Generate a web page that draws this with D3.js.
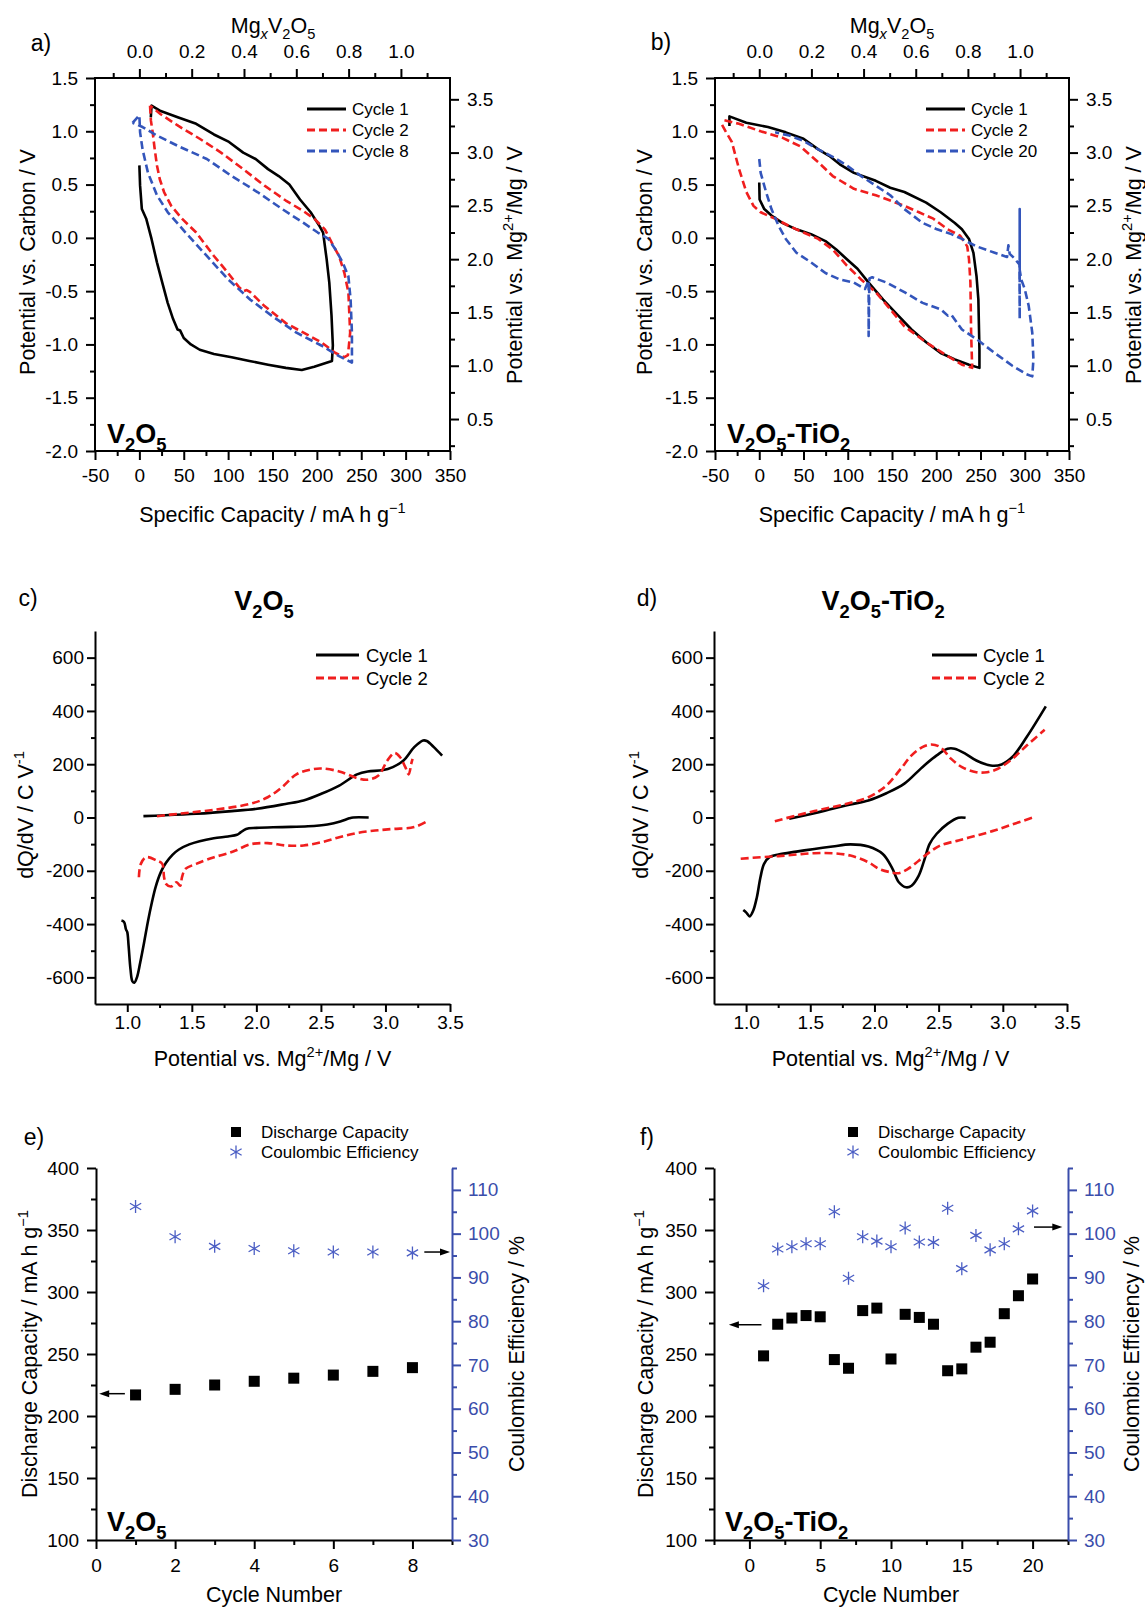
<!DOCTYPE html>
<html>
<head>
<meta charset="utf-8">
<script src="https://cdn.jsdelivr.net/npm/d3@7"></script>
<style>
body { margin: 0; background: #fff; }
svg text { font-family: "Liberation Sans", Arial, Helvetica, sans-serif; }
</style>
</head>
<body>
<svg id="fig" width="1145" height="1610"></svg>
<script>
// ---------- data ----------
// a) V2O5 galvanostatic cycling: [capacity mA h g-1, potential vs carbon V]
const aCycle1 = [[0,0.68],[0.8,0.49],[2.8,0.27],[7.7,0.18],[13.7,-0.01],[19.8,-0.23],[25.8,-0.42],[31.9,-0.61],[37.9,-0.76],[43,-0.86],[46,-0.87],[50,-0.94],[58,-1.0],[68,-1.05],[84,-1.09],[104,-1.12],[124,-1.155],[145,-1.19],[165,-1.22],[183,-1.24],[197,-1.21],[217,-1.155],
  [218,-1.01],[216.5,-0.73],[214,-0.42],[211,-0.2],[207,0.05],[203,0.11],[193,0.24],[181,0.36],[169,0.5],[157,0.58],[145,0.645],[131,0.74],[117,0.8],[101,0.9],[84,0.97],[64,1.07],[44,1.13],[24,1.19],[13.7,1.24],[12.9,1.13]];
const aCycle2 = [[12,1.24],[13,1.1],[15,0.99],[17,0.85],[19.8,0.68],[23,0.55],[27.8,0.43],[35.9,0.3],[48,0.18],[64,0.05],[84,-0.17],[100,-0.33],[112,-0.46],[117,-0.5],[121,-0.49],[125,-0.51],[141,-0.64],[165,-0.8],[185,-0.89],[205,-0.98],[221,-1.08],[231,-1.12],[235,-1.1],
  [237.5,-0.89],[235.5,-0.51],[231,-0.33],[225,-0.17],[219,-0.08],[209,0.08],[197,0.18],[185,0.25],[165,0.35],[141,0.49],[117,0.645],[92,0.8],[68,0.93],[44,1.05],[24,1.16],[12,1.24]];
const aCycle8 = [[-7.7,1.08],[0,1.15],[0.8,0.99],[3.6,0.83],[9.7,0.61],[19.8,0.4],[32,0.24],[52,0.05],[76,-0.17],[100,-0.39],[125,-0.58],[149,-0.73],[177,-0.89],[205,-1.01],[225,-1.11],[239.5,-1.17],
  [239.5,-0.89],[238,-0.58],[235.5,-0.36],[229,-0.23],[221,-0.11],[213,-0.01],[201,0.05],[185,0.14],[161,0.27],[133,0.43],[104,0.58],[76,0.74],[44,0.86],[19.8,0.96],[3.6,1.04],[-7.7,1.08]];

// b) V2O5-TiO2 galvanostatic cycling
const bCycle1 = [[0,0.52],[0.4,0.36],[5.7,0.27],[13.8,0.21],[26,0.14],[42,0.08],[58.5,0.035],[74.8,-0.03],[87,-0.11],[99,-0.2],[111,-0.29],[123.6,-0.42],[140,-0.58],[156,-0.72],[172,-0.86],[188.6,-0.98],[205,-1.08],[221,-1.14],[237,-1.19],[248.8,-1.22],
  [248.8,-1.05],[247.6,-0.58],[245.5,-0.36],[242,-0.14],[237,-0.01],[229,0.08],[221,0.14],[205,0.24],[188.6,0.33],[164,0.43],[148,0.47],[131.7,0.535],[107,0.61],[91,0.69],[79,0.77],[66.7,0.83],[50,0.93],[30,0.99],[9.8,1.04],[-14.6,1.08],[-33.7,1.14],[-33.7,1.05]];
const bCycle2 = [[-42,1.06],[-38,1.0],[-31,0.9],[-22.8,0.645],[-14.6,0.43],[-6.5,0.3],[1.6,0.24],[17.9,0.18],[34,0.11],[50,0.05],[66.7,-0.01],[83,-0.11],[99,-0.26],[115,-0.39],[131.7,-0.51],[148,-0.67],[164,-0.83],[188.6,-0.98],[213,-1.11],[229,-1.19],[240.6,-1.22],
  [239.4,-0.89],[238.6,-0.42],[237,-0.2],[235,-0.08],[227,0.02],[213,0.08],[196.7,0.18],[180.5,0.24],[164,0.3],[148,0.35],[131.7,0.4],[107,0.46],[83,0.58],[66.7,0.71],[46,0.86],[26,0.94],[1.6,1.0],[-22.8,1.07],[-43,1.11]];
const bCycle20 = [[0,0.74],[1.6,0.61],[7.7,0.43],[13.8,0.27],[22,0.11],[30,-0.01],[42,-0.14],[58.5,-0.23],[74.8,-0.33],[91,-0.39],[107,-0.42],[119.5,-0.48],[123.6,-0.4],[123.6,-0.92],[124.5,-0.38],[127.6,-0.37],[144,-0.42],[164,-0.51],[184.6,-0.61],[205,-0.67],[213,-0.73],[217,-0.72],[229,-0.86],[245.5,-0.95],[266,-1.08],[286,-1.2],[302,-1.28],[308.5,-1.3],
  [309.8,-1.14],[308.5,-0.89],[304.5,-0.64],[300,-0.48],[296,-0.39],[294.3,-0.3],[294.3,0.27],[294.3,-0.76],[294,-0.25],[288,-0.19],[283,-0.15],[281.5,-0.07],[280,-0.18],[266,-0.14],[245.5,-0.08],[229,-0.01],[217,0.035],[200.8,0.08],[184.6,0.14],[164,0.27],[148,0.4],[131.7,0.49],[115,0.58],[99,0.68],[83,0.76],[66.7,0.83],[50,0.91],[34,0.96],[17.9,0.99]];

// c) V2O5 differential capacity: [potential vs Mg V, dQ/dV C V-1]
const cC1Dis = [[0.955,-387],[0.975,-392],[0.99,-420],[1.0,-430],[1.01,-480],[1.025,-570],[1.04,-615],[1.055,-620],[1.075,-600],[1.1,-545],[1.13,-470],[1.16,-390],[1.19,-320],[1.22,-260],[1.26,-205],[1.3,-170],[1.35,-140],[1.4,-120],[1.48,-101],[1.56,-89],[1.67,-78],[1.78,-71],[1.85,-65],[1.88,-55],[1.92,-43],[2.0,-39],[2.2,-36],[2.4,-33],[2.55,-26],[2.65,-15],[2.72,-3],[2.75,0],[2.87,0]];
const cC1Chg = [[1.125,5],[1.257,7.5],[1.534,14],[1.81,24],[2.005,33],[2.226,51],[2.365,64],[2.503,89],[2.642,120],[2.78,162],[2.863,173],[2.974,177],[3.057,189],[3.14,214],[3.223,264],[3.292,289],[3.32,287],[3.375,264],[3.439,232]];
const cC2Chg = [[1.23,5],[1.396,14],[1.673,29],[1.95,51],[2.088,76],[2.199,114],[2.31,162],[2.42,180],[2.503,184],[2.642,173],[2.78,148],[2.863,142],[2.946,158],[3.015,214],[3.07,242],[3.112,227],[3.154,189],[3.18,162],[3.2,202],[3.21,220]];
const cC2Dis = [[1.09,-224],[1.105,-174],[1.147,-149],[1.23,-162],[1.271,-174],[1.285,-224],[1.3,-249],[1.34,-259],[1.382,-243],[1.41,-256],[1.424,-224],[1.45,-193],[1.534,-174],[1.673,-149],[1.783,-134],[1.839,-124],[1.95,-101],[2.088,-96],[2.226,-105],[2.365,-105],[2.503,-93],[2.642,-74],[2.78,-58],[2.92,-49],[3.057,-43],[3.223,-36],[3.334,-11]];

// d) V2O5-TiO2 differential capacity
const dC1Chg = [[1.336,-5],[1.532,16],[1.673,33],[1.813,49],[1.953,64],[2.093,91],[2.233,127],[2.373,189],[2.485,233],[2.569,258],[2.625,258],[2.71,239],[2.794,214],[2.906,195],[2.99,199],[3.074,227],[3.186,302],[3.335,417]];
const dC2Chg = [[1.224,-14],[1.392,7.5],[1.532,24],[1.673,39],[1.813,55],[1.953,76],[2.093,120],[2.205,183],[2.289,233],[2.373,264],[2.443,274],[2.513,264],[2.598,220],[2.682,189],[2.794,170],[2.878,170],[2.962,183],[3.074,220],[3.186,270],[3.326,329]];
const dC1Dis = [[0.978,-347],[1.0,-356],[1.028,-371],[1.056,-349],[1.084,-299],[1.112,-224],[1.14,-174],[1.182,-149],[1.252,-139],[1.392,-128],[1.532,-118],[1.673,-109],[1.813,-101],[1.953,-109],[2.065,-137],[2.135,-187],[2.19,-243],[2.247,-262],[2.289,-256],[2.345,-218],[2.387,-162],[2.43,-99],[2.485,-61],[2.569,-24],[2.654,-1],[2.71,-1]];
const dC2Dis = [[0.958,-155],[1.112,-149],[1.252,-145],[1.392,-139],[1.532,-134],[1.673,-134],[1.813,-143],[1.953,-168],[2.037,-193],[2.12,-205],[2.19,-209],[2.261,-193],[2.345,-162],[2.43,-130],[2.513,-105],[2.654,-86],[2.794,-68],[2.934,-49],[3.074,-26],[3.228,-1]];

// e) / f) capacity and coulombic efficiency per cycle
const eCycles = [1,2,3,4,5,6,7,8];
const eCapacity = [217,221.5,225,228,230.5,233,236,239];
const eCE = [106.2,99.3,97.1,96.6,96.1,95.8,95.8,95.6];
const fCycles = [1,2,3,4,5,6,7,8,9,10,11,12,13,14,15,16,17,18,19,20];
const fCapacity = [248.5,274,279,281,280,245.5,238.5,285,287,246,282,279.5,274,236.5,238,255.5,259.5,282.5,297,310.5];
const fCE = [88.1,96.5,97.0,97.7,97.7,105.0,89.8,99.3,98.3,97.0,101.3,98.1,98.0,105.8,92.0,99.6,96.3,97.7,101.1,105.2];
// arrows pointing at the axis each series belongs to: [cycle, value] from -> to
const eArrowCap = [[0.73,218],[0.08,218]];
const eArrowCE = [[8.3,95.8],[8.95,95.8]];
const fArrowCap = [[0.85,273.6],[-1.45,273.6]];
const fArrowCE = [[20.1,101.5],[22.1,101.5]];

// tick values
const capTicks = [-50,0,50,100,150,200,250,300,350];
const capMinor = [-25,25,75,125,175,225,275,325];
const carbonTicks = [-2,-1.5,-1,-0.5,0,0.5,1,1.5];
const carbonMinor = [-1.75,-1.25,-0.75,-0.25,0.25,0.75,1.25];
const mgxTicks = [0,0.2,0.4,0.6,0.8,1.0];
const mgxMinor = [-0.1,0.1,0.3,0.5,0.7,0.9,1.1];
const mgVTicks = [0.5,1,1.5,2,2.5,3,3.5];
const mgVMinor = [0.25,0.75,1.25,1.75,2.25,2.75,3.25];
const dqTicks = [-600,-400,-200,0,200,400,600];
const dqMinor = [-500,-300,-100,100,300,500];
const potTicks = [1.0,1.5,2.0,2.5,3.0,3.5];
const potMinor = [1.25,1.75,2.25,2.75,3.25];
const dischTicks = [100,150,200,250,300,350,400];
const dischMinor = [125,175,225,275,325,375];
const ceTicks = [30,40,50,60,70,80,90,100,110];
const ceMinor = [35,45,55,65,75,85,95,105,115];

const MG_CAP = 294.7;   // mA h g-1 at x = 1 in MgxV2O5
const MG_SHIFT = 2.2;   // V vs Mg2+/Mg = V vs carbon + shift

const RED = "#f01e1e", BLUE = "#3355bb", AXBLUE = "#3a4dab", SYMBLUE = "#4b5ec4";

// ---------- helpers ----------
const svg = d3.select("#fig");
svg.append("rect").attr("width", 1145).attr("height", 1610).attr("fill", "#fff");

function rich(text, parts, fs) {
  let cur = 0;
  parts.forEach(p => {
    const [t, k] = Array.isArray(p) ? p : [p, ""];
    let target = 0, size = fs;
    if (k === "sub" || k === "isub") { target = 0.3 * fs; size = 0.68 * fs; }
    if (k === "sup") { target = -0.42 * fs; size = 0.68 * fs; }
    const ts = text.append("tspan").text(t).style("font-size", size + "px");
    if (target !== cur) ts.attr("dy", target - cur);
    if (k === "isub") ts.style("font-style", "italic");
    cur = target;
  });
}

// x, y = centre of the glyph row
function label(x, y, parts, opt = {}) {
  const fs = opt.size || 21;
  const off = 0.36 * fs;
  const bx = opt.rotate ? x + off : x;
  const by = opt.rotate ? y : y + off;
  const t = svg.append("text")
    .attr("x", bx).attr("y", by)
    .attr("text-anchor", opt.anchor || "middle")
    .style("font-size", fs + "px")
    .style("font-weight", opt.bold ? "bold" : "normal")
    .attr("fill", opt.color || "#000");
  if (opt.rotate) t.attr("transform", `rotate(${opt.rotate},${bx},${by})`);
  rich(t, parts, fs);
  return t;
}

function drawAxis(axis, tx, ty, opt = {}) {
  const color = opt.color || "#000";
  const g = svg.append("g").attr("transform", `translate(${tx},${ty})`).call(axis);
  if (opt.noDomain) g.select(".domain").remove();
  g.select(".domain").attr("stroke", color).attr("stroke-width", 2);
  g.selectAll(".tick line").attr("stroke", color).attr("stroke-width", 2);
  g.selectAll(".tick text").style("font-size", (opt.size || 19) + "px").attr("fill", color);
  return g;
}

const fmt1 = d => d.toFixed(1);
const fmt0 = d => String(d);

function curve(data, x, y, color, dashed, smooth) {
  const ln = d3.line().x(d => x(d[0])).y(d => y(d[1]));
  if (smooth) ln.curve(d3.curveCatmullRom.alpha(0.5));
  svg.append("path").datum(data)
    .attr("d", ln)
    .attr("fill", "none")
    .attr("stroke", color)
    .attr("stroke-width", 2.6)
    .attr("stroke-linejoin", "round")
    .attr("stroke-dasharray", dashed ? "8,4" : null);
}

function legend(x1, x2, tx, ys, items, fs) {
  items.forEach((it, i) => {
    svg.append("line").attr("x1", x1).attr("x2", x2).attr("y1", ys[i]).attr("y2", ys[i])
      .attr("stroke", it.color).attr("stroke-width", 3)
      .attr("stroke-dasharray", it.dashed ? "8,4" : null);
    label(tx, ys[i], [it.name], {size: fs, anchor: "start"});
  });
}

const V2O5 = ["V", ["2","sub"], "O", ["5","sub"]];
const V2O5Ti = ["V", ["2","sub"], "O", ["5","sub"], "-TiO", ["2","sub"]];

// ---------- a), b) charge / discharge ----------
function cyclingPanel(fr, series, tag, letter, legendPos, titleX, sideLabels) {
  const x = d3.scaleLinear().domain([-50, 350]).range([fr.x0, fr.x1]);
  const y = d3.scaleLinear().domain([-2, 1.5]).range([fr.y1, fr.y0]);
  const xTop = d3.scaleLinear().domain([-50 / MG_CAP, 350 / MG_CAP]).range([fr.x0, fr.x1]);
  const yRight = d3.scaleLinear().domain([-2 + MG_SHIFT, 1.5 + MG_SHIFT]).range([fr.y1, fr.y0]);

  series.forEach(s => curve(s.data, x, y, s.color, s.dashed, false));

  svg.append("rect").attr("x", fr.x0).attr("y", fr.y0)
    .attr("width", fr.x1 - fr.x0).attr("height", fr.y1 - fr.y0)
    .attr("fill", "none").attr("stroke", "#000").attr("stroke-width", 2);

  const nd = {noDomain: true};
  drawAxis(d3.axisBottom(x).tickValues(capTicks).tickFormat(fmt0).tickSize(9).tickPadding(9), 0, fr.y1, nd);
  drawAxis(d3.axisBottom(x).tickValues(capMinor).tickFormat("").tickSize(5), 0, fr.y1, nd);
  drawAxis(d3.axisLeft(y).tickValues(carbonTicks).tickFormat(fmt1).tickSize(9).tickPadding(8), fr.x0, 0, nd);
  drawAxis(d3.axisLeft(y).tickValues(carbonMinor).tickFormat("").tickSize(5), fr.x0, 0, nd);
  drawAxis(d3.axisTop(xTop).tickValues(mgxTicks).tickFormat(fmt1).tickSize(9).tickPadding(11), 0, fr.y0, nd);
  drawAxis(d3.axisTop(xTop).tickValues(mgxMinor).tickFormat("").tickSize(5), 0, fr.y0, nd);
  drawAxis(d3.axisRight(yRight).tickValues(mgVTicks).tickFormat(fmt1).tickSize(9).tickPadding(8), fr.x1, 0, nd);
  drawAxis(d3.axisRight(yRight).tickValues(mgVMinor).tickFormat("").tickSize(5), fr.x1, 0, nd);

  label(titleX, 25, ["Mg", ["x","isub"], "V", ["2","sub"], "O", ["5","sub"]], {size: 21.5});
  label((fr.x0 + fr.x1) / 2, 514, ["Specific Capacity / mA h g", ["\u22121","sup"]], {size: 21.5});
  label(sideLabels[0], 262, ["Potential vs. Carbon / V"], {size: 21.5, rotate: -90});
  label(sideLabels[1], 265, ["Potential vs. Mg", ["2+","sup"], "/Mg / V"], {size: 21.5, rotate: -90});
  label(letter.x, letter.y, [letter.t], {size: 23});
  label(fr.x0 + 12, 433, tag, {size: 27, bold: true, anchor: "start"});
  legend(legendPos.x1, legendPos.x2, legendPos.tx, [109, 130, 151], series, 17);
}

cyclingPanel({x0: 95, x1: 450, y0: 78, y1: 451},
  [{name: "Cycle 1", data: aCycle1, color: "#000", dashed: false},
   {name: "Cycle 2", data: aCycle2, color: RED, dashed: true},
   {name: "Cycle 8", data: aCycle8, color: BLUE, dashed: true}],
  V2O5, {x: 41, y: 43, t: "a)"}, {x1: 307, x2: 346, tx: 352}, 273, [27, 514]);

cyclingPanel({x0: 715, x1: 1069, y0: 78, y1: 451},
  [{name: "Cycle 1", data: bCycle1, color: "#000", dashed: false},
   {name: "Cycle 2", data: bCycle2, color: RED, dashed: true},
   {name: "Cycle 20", data: bCycle20, color: BLUE, dashed: true}],
  V2O5Ti, {x: 661, y: 42, t: "b)"}, {x1: 926, x2: 965, tx: 971}, 892, [644, 1133]);

// ---------- c), d) differential capacity ----------
function dqdvPanel(fr, series, title, titleX, letter, legendPos, yLabelX) {
  const x = d3.scaleLinear().domain([0.75, 3.5]).range([fr.x0, fr.x1]);
  const y = d3.scaleLinear().domain([-700, 700]).range([fr.y1, fr.y0]);

  series.forEach(s => s.parts.forEach(p => curve(p, x, y, s.color, s.dashed, true)));

  drawAxis(d3.axisBottom(x).tickValues(potTicks).tickFormat(fmt1).tickSize(8).tickPadding(4).tickSizeOuter(0), 0, fr.y1);
  drawAxis(d3.axisBottom(x).tickValues(potMinor).tickFormat("").tickSize(4), 0, fr.y1, {noDomain: true});
  drawAxis(d3.axisLeft(y).tickValues(dqTicks).tickFormat(fmt0).tickSize(8).tickPadding(3).tickSizeOuter(0), fr.x0, 0);
  drawAxis(d3.axisLeft(y).tickValues(dqMinor).tickFormat("").tickSize(4), fr.x0, 0, {noDomain: true});

  label(titleX, 600, title, {size: 27, bold: true});
  label(letter.x, letter.y, [letter.t], {size: 23});
  label((fr.x0 + fr.x1) / 2, 1058, ["Potential vs. Mg", ["2+","sup"], "/Mg / V"], {size: 21.5});
  label(yLabelX, 815, ["dQ/dV / C V", ["-1","sup"]], {size: 21.5, rotate: -90});
  legend(legendPos.x1, legendPos.x2, legendPos.tx, [655, 678], series, 18.5);
}

dqdvPanel({x0: 95, x1: 450, y0: 631, y1: 1004},
  [{name: "Cycle 1", parts: [cC1Dis, cC1Chg], color: "#000", dashed: false},
   {name: "Cycle 2", parts: [cC2Dis, cC2Chg], color: RED, dashed: true}],
  V2O5, 264, {x: 28, y: 598, t: "c)"}, {x1: 316, x2: 359, tx: 366}, 25);

dqdvPanel({x0: 714, x1: 1067, y0: 631, y1: 1004},
  [{name: "Cycle 1", parts: [dC1Dis, dC1Chg], color: "#000", dashed: false},
   {name: "Cycle 2", parts: [dC2Dis, dC2Chg], color: RED, dashed: true}],
  V2O5Ti, 883, {x: 647, y: 598, t: "d)"}, {x1: 932, x2: 977, tx: 983}, 640);

// ---------- e), f) capacity retention ----------
function asteriskPath(r) {
  const a = r * Math.cos(Math.PI / 6), b = r * 0.5;
  return `M0,${-r}V${r}M${-a},${-b}L${a},${b}M${-a},${b}L${a},${-b}`;
}

function arrow(p0, p1) {
  const dir = Math.sign(p1[0] - p0[0]);
  svg.append("line").attr("x1", p0[0]).attr("y1", p0[1]).attr("x2", p1[0] - dir * 8).attr("y2", p1[1])
    .attr("stroke", "#000").attr("stroke-width", 1.5);
  svg.append("path")
    .attr("d", `M${p1[0]},${p1[1]}L${p1[0] - dir * 10},${p1[1] - 3.5}L${p1[0] - dir * 10},${p1[1] + 3.5}Z`)
    .attr("fill", "#000");
}

function cyclePanel(fr, xDomain, xTicks, xMinor, cycles, caps, ces, arrCap, arrCE, tag, letter, legX, sideLabels) {
  const x = d3.scaleLinear().domain(xDomain).range([fr.x0, fr.x1]);
  const y = d3.scaleLinear().domain([100, 400]).range([fr.y1, fr.y0]);
  const yr = d3.scaleLinear().domain([30, 115]).range([fr.y1, fr.y0]);

  drawAxis(d3.axisBottom(x).tickValues(xTicks).tickFormat(fmt0).tickSize(9).tickPadding(10).tickSizeOuter(0), 0, fr.y1);
  drawAxis(d3.axisBottom(x).tickValues(xMinor).tickFormat("").tickSize(5), 0, fr.y1, {noDomain: true});
  drawAxis(d3.axisLeft(y).tickValues(dischTicks).tickFormat(fmt0).tickSize(9).tickPadding(8).tickSizeOuter(0), fr.x0, 0);
  drawAxis(d3.axisLeft(y).tickValues(dischMinor).tickFormat("").tickSize(5), fr.x0, 0, {noDomain: true});
  drawAxis(d3.axisRight(yr).tickValues(ceTicks).tickFormat(fmt0).tickSize(9).tickPadding(7).tickSizeOuter(0), fr.x1, 0, {color: AXBLUE});
  drawAxis(d3.axisRight(yr).tickValues(ceMinor).tickFormat("").tickSize(5), fr.x1, 0, {noDomain: true, color: AXBLUE});

  svg.append("g").selectAll("rect").data(cycles).join("rect")
    .attr("x", d => x(d) - 5.5).attr("y", (d, i) => y(caps[i]) - 5.5)
    .attr("width", 11).attr("height", 11).attr("fill", "#000");
  svg.append("g").selectAll("path").data(cycles).join("path")
    .attr("transform", (d, i) => `translate(${x(d)},${yr(ces[i])})`)
    .attr("d", asteriskPath(6.5))
    .attr("fill", "none").attr("stroke", SYMBLUE).attr("stroke-width", 1.3);

  arrow([x(arrCap[0][0]), y(arrCap[0][1])], [x(arrCap[1][0]), y(arrCap[1][1])]);
  arrow([x(arrCE[0][0]), yr(arrCE[0][1])], [x(arrCE[1][0]), yr(arrCE[1][1])]);

  // legend
  svg.append("rect").attr("x", legX - 5).attr("y", 1132 - 5).attr("width", 10).attr("height", 10).attr("fill", "#000");
  svg.append("path").attr("transform", `translate(${legX},1152)`).attr("d", asteriskPath(6.5))
    .attr("fill", "none").attr("stroke", SYMBLUE).attr("stroke-width", 1.3);
  label(legX + 25, 1132, ["Discharge Capacity"], {size: 17, anchor: "start"});
  label(legX + 25, 1152, ["Coulombic Efficiency"], {size: 17, anchor: "start"});

  label(letter.x, letter.y, [letter.t], {size: 23});
  label(fr.x0 + 11, 1521, tag, {size: 27, bold: true, anchor: "start"});
  label((fr.x0 + fr.x1) / 2, 1594, ["Cycle Number"], {size: 21.5});
  label(sideLabels[0], 1354, ["Discharge Capacity / mA h g", ["\u22121","sup"]], {size: 21.5, rotate: -90});
  label(sideLabels[1], 1354, ["Coulombic Efficiency / %"], {size: 21.5, rotate: -90});
}

cyclePanel({x0: 96, x1: 452, y0: 1168, y1: 1540}, [0, 9], [0,2,4,6,8], [1,3,5,7,9],
  eCycles, eCapacity, eCE, eArrowCap, eArrowCE, V2O5, {x: 34, y: 1137, t: "e)"}, 236, [29, 516]);

cyclePanel({x0: 714, x1: 1068, y0: 1168, y1: 1540}, [-2.5, 22.5], [0,5,10,15,20], [-2.5,2.5,7.5,12.5,17.5,22.5],
  fCycles, fCapacity, fCE, fArrowCap, fArrowCE, V2O5Ti, {x: 647, y: 1137, t: "f)"}, 853, [645, 1131]);
</script>
</body>
</html>
